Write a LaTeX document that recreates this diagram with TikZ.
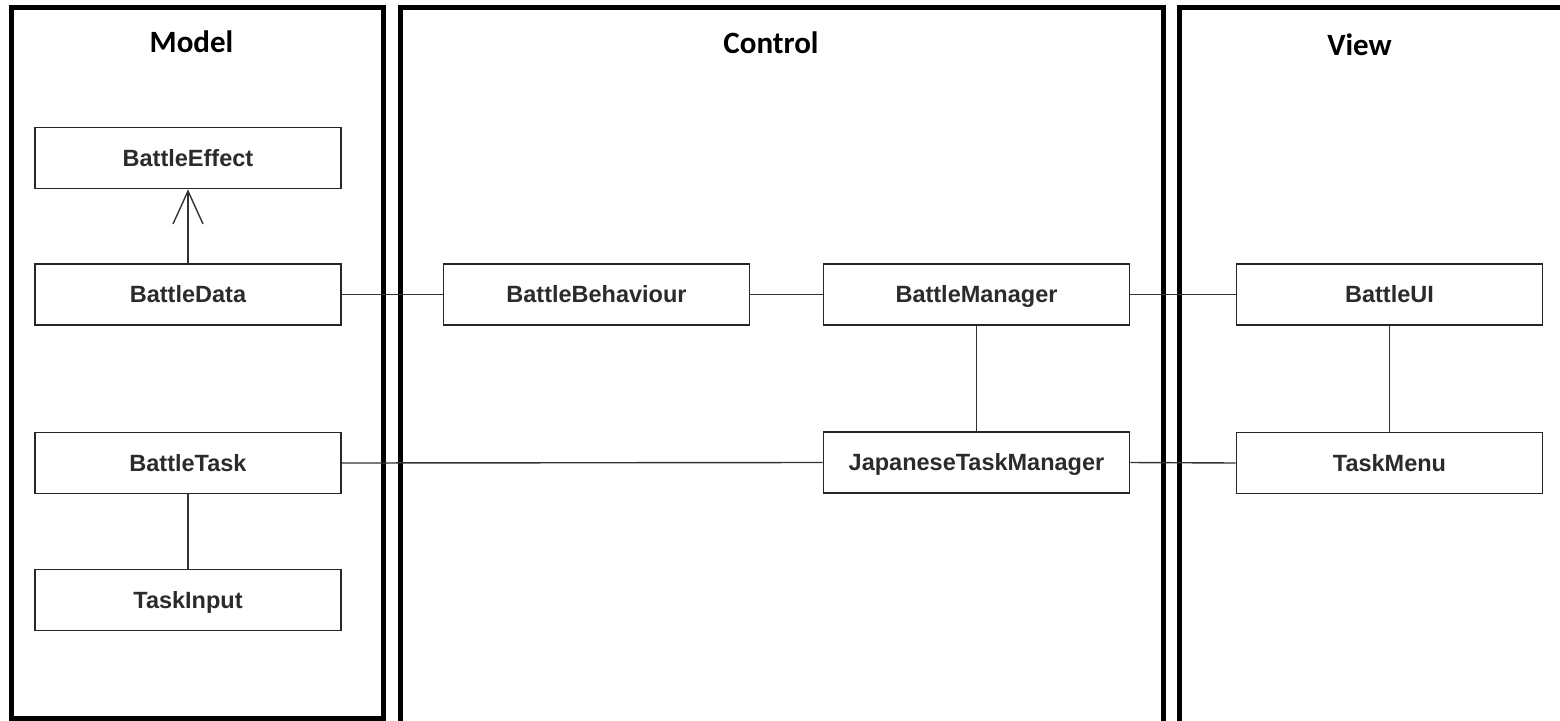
\documentclass[tikz,border=0pt]{standalone}
\usepackage{fontspec}
\setmainfont{Liberation Sans}
\newfontfamily\titlefont{Carlito}
\usetikzlibrary{arrows.meta}
\definecolor{boxline}{HTML}{262626}
\definecolor{boxtext}{HTML}{2B2B2B}
\definecolor{linkline}{HTML}{333333}
\tikzset{
  layer/.style={draw=black, line width=5pt},
  layertitle/.style={font=\titlefont\bfseries\fontsize{31}{31}\selectfont, text=black,
    anchor=base, inner sep=0pt},
  cls/.style={draw=boxline, line width=1.6pt, minimum width=306pt, minimum height=61pt,
    inner sep=0pt, text height=16.8pt, text depth=0pt,
    font=\bfseries\fontsize{23.5}{24}\selectfont, text=boxtext},
  link/.style={draw=linkline, line width=1.4pt},
  depends/.style={link, -{Straight Barb[length=33pt, width=30pt, line width=1.4pt]}}
}
\begin{document}
\begin{tikzpicture}[x=1pt, y=-1pt]
  \clip (0,0) rectangle (1560,720);
  \fill[white] (0,0) rectangle (1560,720);

  % layer frames
  \draw[layer] (11.5,7.5) rectangle (383.5,718);
  \draw[layer] (400.5,7.5) rectangle (1163.5,730);
  \draw[layer] (1179,7.5) rectangle (1575,730);

  \node[layertitle] (tmodel) at (191.5,52) {Model};
  \node[layertitle] (tcontrol) at (771,53) {Control};
  \node[layertitle] (tview) at (1359.5,55) {View};

  % model classes
  \node[cls] (effect) at (188,158) {BattleEffect};
  \node[cls] (data) at (188,294.5) {BattleData};
  \node[cls] (task) at (188,463) {BattleTask};
  \node[cls] (input) at (188,600) {TaskInput};

  % control classes
  \node[cls] (behaviour) at (596.5,294.5) {BattleBehaviour};
  \node[cls] (manager) at (976.5,294.5) {BattleManager};
  \node[cls] (jtm) at (976.5,462.5) {JapaneseTaskManager};

  % view classes
  \node[cls] (ui) at (1389.5,294.5) {BattleUI};
  \node[cls] (menu) at (1389.5,463) {TaskMenu};

  % associations
  \draw[depends] (data.north) -- (effect.south);
  \draw[link] (data.east) -- (behaviour.west);
  \draw[link] (behaviour.east) -- (manager.west);
  \draw[link] (manager.east) -- (ui.west);
  \draw[link] (manager.south) -- (jtm.north);
  \draw[link] (task.east) -- (jtm.west);
  \draw[link] (jtm.east) -- (menu.west);
  \draw[link] (ui.south) -- (menu.north);
  \draw[link] (task.south) -- (input.north);
\end{tikzpicture}
\end{document}
